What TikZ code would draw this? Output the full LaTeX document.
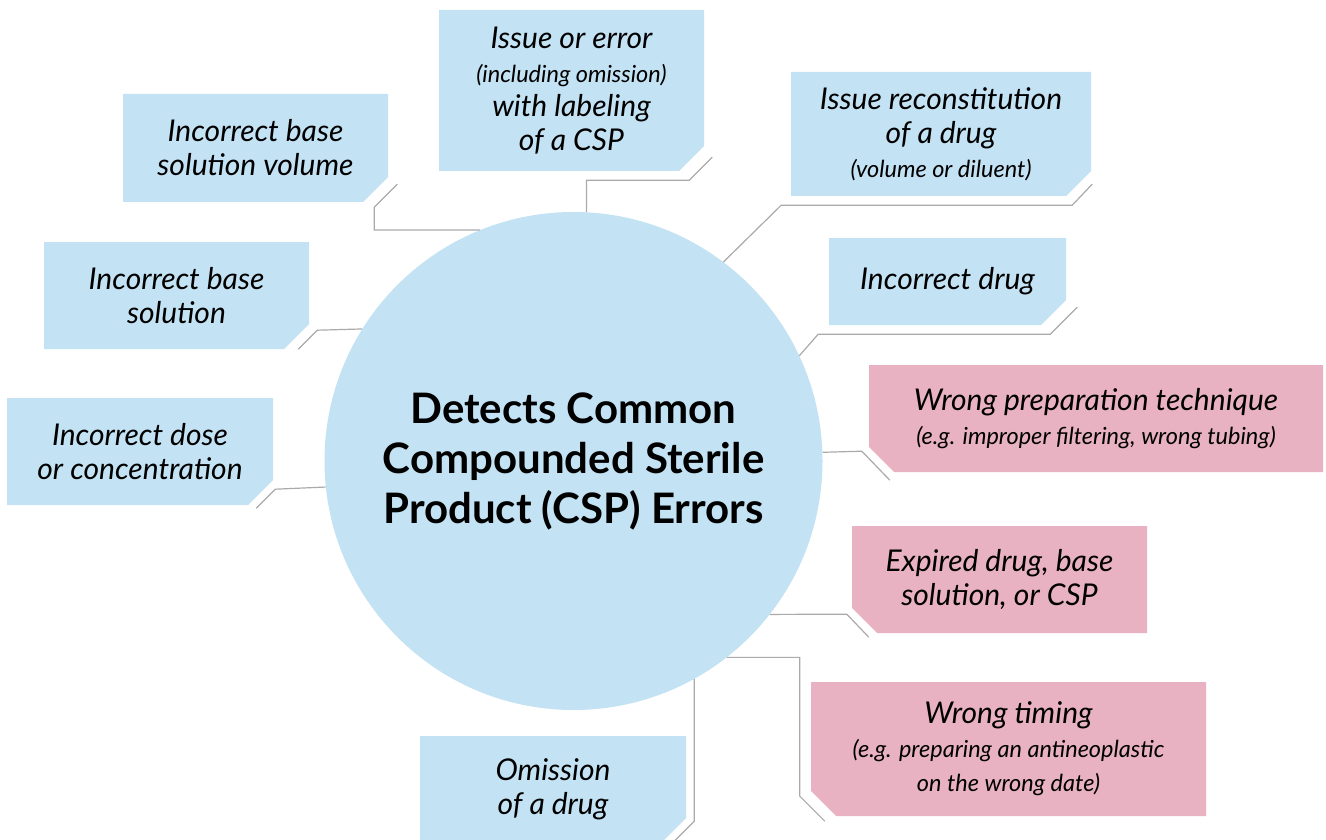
\documentclass[tikz,border=0pt]{standalone}
\usepackage{fontspec}
\setmainfont{Lato}
\definecolor{errblue}{RGB}{195, 226, 243}
\definecolor{errpink}{RGB}{232, 178, 194}
\definecolor{linegray}{RGB}{170, 170, 170}
\newcommand{\smalltxt}[1]{{\fontsize{23.5}{31}\selectfont #1}}

\begin{document}
\begin{tikzpicture}[x=1pt, y=-1pt,
    txt/.style={font=\itshape\fontsize{30}{34}\selectfont, align=center, inner sep=0pt, fill=white},
    sebox/.style={txt, path picture={\fill[#1] (path picture bounding box.north west) -- (path picture bounding box.north east)
        -- ([yshift=25pt]path picture bounding box.south east) -- ([xshift=-25pt]path picture bounding box.south east)
        -- (path picture bounding box.south west) -- cycle;}},
    swbox/.style={txt, path picture={\fill[#1] (path picture bounding box.north west) -- (path picture bounding box.north east)
        -- (path picture bounding box.south east) -- ([xshift=25pt]path picture bounding box.south west)
        -- ([yshift=25pt]path picture bounding box.south west) -- cycle;}},
    link/.style={draw=linegray, line width=1.2pt}]
    \path[use as bounding box, clip] (0,0) rectangle (1326,840);

    \node[circle, fill=errblue, minimum size=498pt, inner sep=0pt, align=center, font=\bfseries\fontsize{42}{50}\selectfont] (hub) at (573.5,461) {Detects Common\\Compounded Sterile\\Product (CSP) Errors};

    \node[sebox=errblue, minimum width=265pt, minimum height=108pt] (volume) at (255.5,148) {Incorrect base\\solution volume};
    \node[sebox=errblue, minimum width=265pt, minimum height=161pt] (label) at (571.5,90.5) {Issue or error\\\smalltxt{(including omission)}\\with labeling\\of a CSP};
    \node[sebox=errblue, minimum width=300pt, minimum height=124pt] (recon) at (941,134) {Issue reconstitution\\of a drug\\\smalltxt{(volume or diluent)}};
    \node[sebox=errblue, minimum width=237pt, minimum height=87pt] (drug) at (947.5,281.5) {Incorrect drug};
    \node[sebox=errblue, minimum width=265pt, minimum height=107pt] (base) at (176.5,295.5) {Incorrect base\\solution};
    \node[sebox=errblue, minimum width=266pt, minimum height=107pt] (dose) at (140,451.5) {Incorrect dose\\or concentration};
    \node[sebox=errblue, minimum width=266pt, minimum height=107pt] (omit) at (553,789.5) {Omission\\of a drug};
    \node[swbox=errpink, minimum width=454pt, minimum height=107pt] (technique) at (1096,418.5) {Wrong preparation technique\\\smalltxt{(e.g. improper filtering, wrong tubing)}};
    \node[swbox=errpink, minimum width=295pt, minimum height=107pt] (expired) at (999.5,579.5) {Expired drug, base\\solution, or CSP};
    \node[swbox=errpink, minimum width=395pt, minimum height=134pt] (timing) at (1008.5,749) {Wrong timing\\\smalltxt{(e.g. preparing an antineoplastic}\\\smalltxt{on the wrong date)}};

    \draw[link] ([shift={(9,-18)}]volume.south east) -- ++(-23,23) |- (hub.112);
    \draw[link] ([shift={(8,-14)}]label.south east) -- ++(-23,23) -| (hub.87.3);
    \draw[link] ([shift={(1,-12)}]recon.south east) -- ++(-20,21) -- ++(-291,0) -- (hub.53.7);
    \draw[link] ([shift={(11,-18)}]drug.south east) -- ++(-27,27) -- ++(-232,0) -- (hub.25.8);
    \draw[link] ([shift={(-11,0)}]base.south east) -- ++(19,-19) -- (hub.148.3);
    \draw[link] ([shift={(-17,3)}]dose.south east) -- ++(19,-19) -- (hub.186.5);
    \draw[link] ([shift={(-13,-1)}]omit.south east) -- ++(21,-21) -- (hub.-61.1);
    \draw[link] ([shift={(21,8)}]technique.south west) -- ++(-28,-29) -- (hub.2.3);
    \draw[link] ([shift={(17,4)}]expired.south west) -- ++(-22,-23) -- (hub.-38.2);
    \draw[link] ([shift={(14,5)}]timing.south west) -- ++(-25,-25) |- (hub.-52.7);
\end{tikzpicture}
\end{document}
